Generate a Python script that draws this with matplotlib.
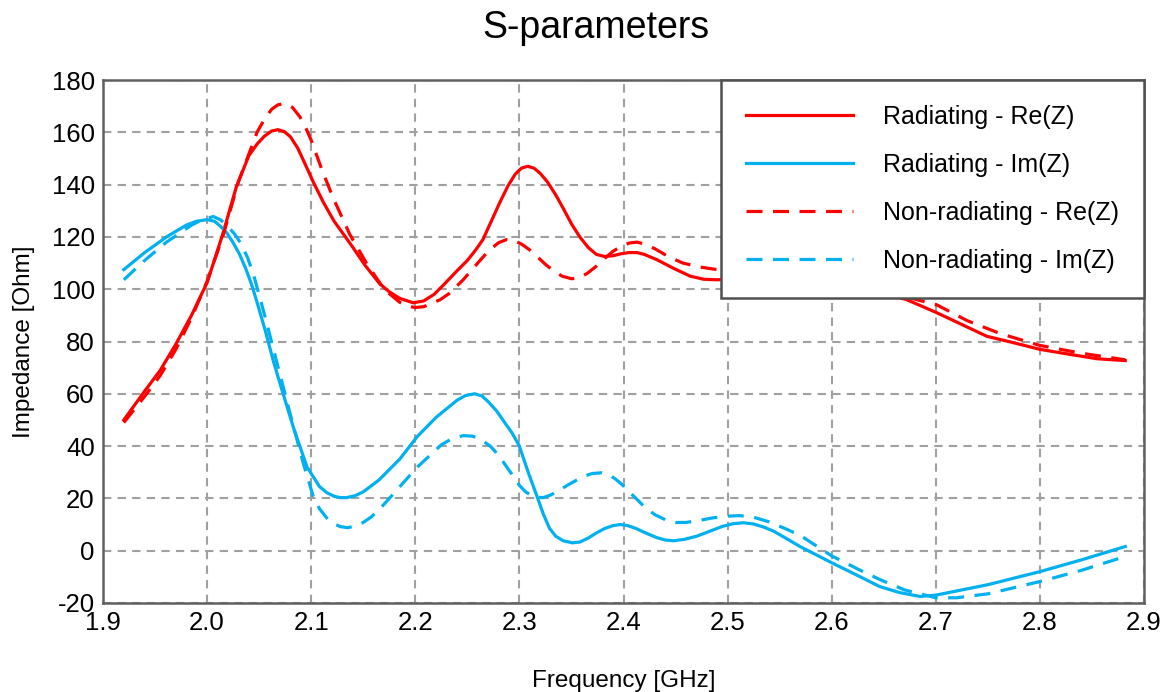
import matplotlib
matplotlib.use("Agg")
import matplotlib.pyplot as plt

plt.rcParams['font.family'] = ['Liberation Sans', 'DejaVu Sans']
plt.rcParams['axes.unicode_minus'] = False

# Radiating - Re(Z)
f_rad_re = [1.920, 1.940, 1.955, 1.970, 1.985, 2.000, 2.015, 2.028, 2.040, 2.048,
            2.055, 2.062, 2.068, 2.074, 2.080, 2.087, 2.094, 2.102, 2.112, 2.122,
            2.132, 2.140, 2.152, 2.166, 2.175, 2.185, 2.198, 2.208, 2.218, 2.228,
            2.240, 2.250, 2.258, 2.265, 2.273, 2.281, 2.289, 2.296, 2.302, 2.308,
            2.314, 2.320, 2.327, 2.335, 2.342, 2.350, 2.358, 2.366, 2.374, 2.382,
            2.390, 2.397, 2.405, 2.413, 2.420, 2.432, 2.448, 2.464, 2.477, 2.490,
            2.510, 2.530, 2.570, 2.610, 2.640, 2.672, 2.701, 2.725, 2.749, 2.775,
            2.800, 2.830, 2.855, 2.882]
rad_re = [50, 61, 69, 79, 90, 102.5, 121, 139, 151, 155.5,
          158.5, 160.5, 161, 160.3, 158.3, 154, 148, 141, 133, 126,
          120.5, 116, 109, 102, 99, 96.5, 94.8, 95.5, 98, 102,
          107, 111, 115, 119, 126, 133, 139.5, 144, 146.3, 147,
          146.3, 144.3, 141, 136, 131, 125, 120, 116, 113.3, 112.5,
          112.8, 113.5, 114, 114, 113.3, 111.3, 108, 105, 103.8, 103.6,
          104, 104.5, 104, 102, 99.5, 96, 91, 86.5, 82, 79.5,
          77, 75, 73.4, 72.7]

# Radiating - Im(Z)
f_rad_im = [1.920, 1.940, 1.961, 1.980, 1.990, 2.000, 2.007, 2.013, 2.019, 2.025,
            2.031, 2.037, 2.043, 2.048, 2.056, 2.064, 2.070, 2.083, 2.096, 2.108,
            2.115, 2.122, 2.128, 2.134, 2.142, 2.150, 2.165, 2.185, 2.202, 2.220,
            2.240, 2.248, 2.257, 2.264, 2.270, 2.278, 2.285, 2.293, 2.300, 2.308,
            2.317, 2.323, 2.329, 2.335, 2.342, 2.351, 2.358, 2.366, 2.374, 2.382,
            2.390, 2.397, 2.404, 2.412, 2.420, 2.432, 2.440, 2.448, 2.458, 2.470,
            2.482, 2.495, 2.505, 2.515, 2.525, 2.535, 2.545, 2.555, 2.570, 2.600,
            2.625, 2.646, 2.665, 2.685, 2.700, 2.750, 2.800, 2.840, 2.882]
rad_im = [107.5, 114, 120, 124.5, 126, 126.6, 126, 124, 121.5, 117.8,
          113.5, 108, 101.5, 95, 84, 72, 64, 47, 32, 24.5,
          22.2, 20.8, 20.3, 20.3, 21, 22.5, 27, 35, 43.7, 51,
          57.5, 59.3, 60, 59.2, 57, 53.5, 49.5, 45, 40, 30.5,
          20.7, 14, 8.5, 5.5, 3.8, 3, 3.3, 4.8, 6.8, 8.5,
          9.6, 10, 9.6, 8.5, 7, 5, 4.1, 3.8, 4.3, 5.5,
          7.3, 9.3, 10.3, 10.7, 10.2, 9, 7.3, 5, 1.5, -4.6,
          -9.5, -13.7, -16, -17.5, -17, -13, -8, -3.5, 1.6]

# Non-radiating - Re(Z)
f_non_re = [1.920, 1.940, 1.955, 1.970, 1.985, 2.000, 2.015, 2.030, 2.048, 2.055,
            2.062, 2.068, 2.075, 2.082, 2.089, 2.095, 2.100, 2.110, 2.121, 2.137,
            2.153, 2.170, 2.185, 2.193, 2.200, 2.208, 2.215, 2.224, 2.233, 2.246,
            2.260, 2.270, 2.280, 2.288, 2.295, 2.303, 2.310, 2.317, 2.325, 2.333,
            2.341, 2.350, 2.357, 2.365, 2.373, 2.381, 2.390, 2.398, 2.406, 2.413,
            2.420, 2.430, 2.443, 2.457, 2.473, 2.490, 2.530, 2.570, 2.610, 2.640,
            2.672, 2.701, 2.730, 2.762, 2.800, 2.840, 2.882]
non_re = [49, 59, 67, 77, 89, 103, 120, 141, 160, 165,
          168.8, 170.5, 171, 169.5, 166, 161.5, 157, 146, 135, 121,
          110, 100, 95, 93.5, 93, 93.3, 94.5, 96, 98.5, 103.6,
          110, 114.5, 117.8, 119, 118.7, 117, 115, 112.5, 109.5, 107,
          105, 104, 104.3, 106, 108.5, 111.5, 114.5, 116.5, 117.7, 118,
          117.3, 115.5, 112.5, 110, 108.5, 107.5, 108, 107, 104, 100.5,
          97, 94, 88, 83, 78.5, 75.5, 73]

# Non-radiating - Im(Z)
f_non_im = [1.920, 1.940, 1.961, 1.985, 1.995, 2.006, 2.013, 2.020, 2.026, 2.032,
            2.039, 2.045, 2.056, 2.067, 2.080, 2.092, 2.102, 2.108, 2.115, 2.122,
            2.128, 2.135, 2.143, 2.150, 2.158, 2.166, 2.175, 2.202, 2.225, 2.235,
            2.246, 2.255, 2.263, 2.272, 2.280, 2.287, 2.294, 2.300, 2.306, 2.312,
            2.318, 2.323, 2.330, 2.338, 2.346, 2.355, 2.362, 2.370, 2.379, 2.386,
            2.392, 2.398, 2.403, 2.412, 2.420, 2.430, 2.442, 2.450, 2.460, 2.472,
            2.485, 2.498, 2.512, 2.525, 2.540, 2.555, 2.570, 2.600, 2.625, 2.646,
            2.670, 2.700, 2.720, 2.750, 2.800, 2.840, 2.882]
non_im = [103.6, 111, 118, 124.5, 126.5, 127.8, 126.5, 124, 121.3, 117.8,
          112, 105, 89, 72, 52, 34, 20.7, 16, 12.5, 10.3,
          9.2, 8.8, 9.5, 10.8, 13, 16, 20, 32, 40.5, 42.8,
          44, 43.8, 42.5, 40, 36.5, 32.5, 28.5, 25, 22.5, 21,
          20.4, 20.3, 21.3, 23, 25, 27, 28.5, 29.5, 29.8, 29,
          27.5, 25.5, 23.5, 20, 16.8, 13.8, 11.5, 10.8, 10.8, 11.5,
          12.5, 13.2, 13.4, 12.8, 11, 8.5, 5.8, -2, -7, -11,
          -15, -18, -18, -16.5, -11.8, -7.5, -2.2]

red = '#FF0000'
blue = '#00B0F0'
dash = (0, (5, 3.3))

fig = plt.figure(figsize=(11.72, 6.92), dpi=100)
ax = fig.add_axes([103 / 1172, 1 - 603 / 692, 1041 / 1172, 523 / 692])

ax.plot(f_rad_re, rad_re, color=red, lw=2.3, label='Radiating - Re(Z)')
ax.plot(f_rad_im, rad_im, color=blue, lw=2.3, label='Radiating - Im(Z)')
ax.plot(f_non_re, non_re, color=red, lw=2.3, linestyle=dash, label='Non-radiating - Re(Z)')
ax.plot(f_non_im, non_im, color=blue, lw=2.3, linestyle=dash, label='Non-radiating - Im(Z)')

ax.set_xlim(1.9, 2.9)
ax.set_ylim(-20, 180)
ax.set_xticks([1.9, 2.0, 2.1, 2.2, 2.3, 2.4, 2.5, 2.6, 2.7, 2.8, 2.9])
ax.set_xticklabels(['1.9', '2.0', '2.1', '2.2', '2.3', '2.4', '2.5', '2.6', '2.7', '2.8', '2.9'])
ax.set_yticks(range(-20, 181, 20))
ax.tick_params(length=0, labelsize=18.5, pad=6)

ax.grid(True, color='#A0A0A0', linestyle=(0, (4, 3)), lw=1.5)
ax.set_axisbelow(True)
for s in ax.spines.values():
    s.set_color('#606060')
    s.set_linewidth(1.8)

ax.set_title('S-parameters', fontsize=27, pad=30, x=0.473)
ax.set_xlabel('Frequency [GHz]', fontsize=17.5, labelpad=25)
ax.set_ylabel('Impedance [Ohm]', fontsize=17.5, labelpad=12)

leg = ax.legend(loc='upper right', borderaxespad=0, fontsize=18, handlelength=4.3,
                handletextpad=1.2, labelspacing=0.96, borderpad=1.0,
                fancybox=False, framealpha=1)
leg.get_frame().set_edgecolor('#505050')
leg.get_frame().set_linewidth(1.8)

fig.savefig('out.png', dpi=100)
